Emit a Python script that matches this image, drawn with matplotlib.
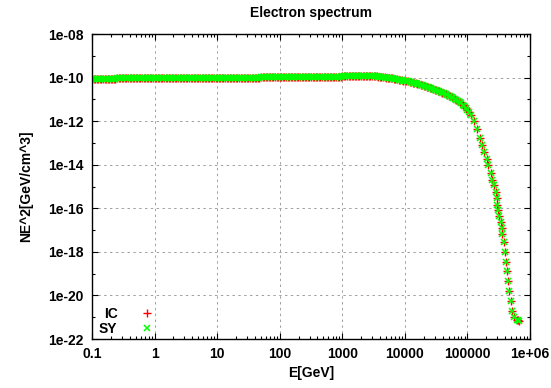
import matplotlib
matplotlib.use("Agg")
import matplotlib.pyplot as plt
import numpy as np

# ---- data (log10 values) ----
log_E = [
    -1.000, -0.975, -0.950, -0.925, -0.900, -0.875, -0.850, -0.825, -0.800, -0.775,
    -0.750, -0.725, -0.700, -0.675, -0.650, -0.625, -0.600, -0.575, -0.550, -0.525,
    -0.500, -0.475, -0.450, -0.425, -0.400, -0.375, -0.350, -0.325, -0.300, -0.275,
    -0.250, -0.225, -0.200, -0.175, -0.150, -0.125, -0.100, -0.075, -0.050, -0.025,
    0.000, 0.025, 0.050, 0.075, 0.100, 0.125, 0.150, 0.175, 0.200, 0.225,
    0.250, 0.275, 0.300, 0.325, 0.350, 0.375, 0.400, 0.425, 0.450, 0.475,
    0.500, 0.525, 0.550, 0.575, 0.600, 0.625, 0.650, 0.675, 0.700, 0.725,
    0.750, 0.775, 0.800, 0.825, 0.850, 0.875, 0.900, 0.925, 0.950, 0.975,
    1.000, 1.025, 1.050, 1.075, 1.100, 1.125, 1.150, 1.175, 1.200, 1.225,
    1.250, 1.275, 1.300, 1.325, 1.350, 1.375, 1.400, 1.425, 1.450, 1.475,
    1.500, 1.525, 1.550, 1.575, 1.600, 1.625, 1.650, 1.675, 1.700, 1.725,
    1.750, 1.775, 1.800, 1.825, 1.850, 1.875, 1.900, 1.925, 1.950, 1.975,
    2.000, 2.025, 2.050, 2.075, 2.100, 2.125, 2.150, 2.175, 2.200, 2.225,
    2.250, 2.275, 2.300, 2.325, 2.350, 2.375, 2.400, 2.425, 2.450, 2.475,
    2.500, 2.525, 2.550, 2.575, 2.600, 2.625, 2.650, 2.675, 2.700, 2.725,
    2.750, 2.775, 2.800, 2.825, 2.850, 2.875, 2.900, 2.925, 2.950, 2.975,
    3.000, 3.025, 3.050, 3.075, 3.100, 3.125, 3.150, 3.175, 3.200, 3.225,
    3.250, 3.275, 3.300, 3.325, 3.350, 3.375, 3.400, 3.425, 3.450, 3.475,
    3.500, 3.525, 3.550, 3.575, 3.600, 3.625, 3.650, 3.675, 3.700, 3.725,
    3.750, 3.775, 3.800, 3.825, 3.850, 3.875, 3.900, 3.925, 3.950, 3.975,
    4.000, 4.025, 4.050, 4.075, 4.100, 4.125, 4.150, 4.175, 4.200, 4.225,
    4.250, 4.275, 4.300, 4.325, 4.350, 4.375, 4.400, 4.425, 4.450, 4.475,
    4.500, 4.525, 4.550, 4.575, 4.600, 4.625, 4.650, 4.675, 4.700, 4.725,
    4.750, 4.775, 4.800, 4.825, 4.850, 4.875, 4.900, 4.925, 4.950, 4.975,
    5.000, 5.025, 5.050, 5.100, 5.150, 5.200, 5.240, 5.270, 5.310, 5.330,
    5.370, 5.400, 5.430, 5.460, 5.470, 5.480, 5.490, 5.510, 5.530, 5.550,
    5.560, 5.580, 5.600, 5.620, 5.640, 5.650, 5.670, 5.690, 5.720, 5.750,
    5.790, 5.810, 5.830,
]
log_NE2_SY = [
    -10.050, -10.050, -10.049, -10.049, -10.048, -10.048, -10.047, -10.047, -10.046, -10.046,
    -10.045, -10.045, -10.044, -10.044, -10.043, -10.043, -10.042, -10.042, -10.041, -10.041,
    -10.040, -10.040, -10.039, -10.039, -10.038, -10.038, -10.037, -10.037, -10.036, -10.036,
    -10.035, -10.035, -10.034, -10.034, -10.033, -10.033, -10.032, -10.032, -10.031, -10.031,
    -10.030, -10.030, -10.029, -10.029, -10.028, -10.028, -10.027, -10.027, -10.026, -10.026,
    -10.025, -10.025, -10.024, -10.024, -10.023, -10.023, -10.022, -10.022, -10.021, -10.021,
    -10.020, -10.020, -10.019, -10.019, -10.018, -10.018, -10.017, -10.017, -10.016, -10.016,
    -10.015, -10.015, -10.014, -10.014, -10.013, -10.013, -10.012, -10.012, -10.011, -10.011,
    -10.010, -10.010, -10.009, -10.009, -10.008, -10.008, -10.007, -10.007, -10.006, -10.006,
    -10.005, -10.005, -10.004, -10.004, -10.003, -10.003, -10.002, -10.002, -10.001, -10.001,
    -10.000, -10.000, -9.999, -9.999, -9.998, -9.998, -9.997, -9.997, -9.996, -9.996,
    -9.995, -9.995, -9.994, -9.994, -9.993, -9.993, -9.992, -9.992, -9.991, -9.991,
    -9.990, -9.989, -9.988, -9.987, -9.986, -9.985, -9.984, -9.983, -9.982, -9.981,
    -9.980, -9.979, -9.978, -9.977, -9.976, -9.975, -9.974, -9.973, -9.972, -9.971,
    -9.970, -9.969, -9.968, -9.967, -9.966, -9.965, -9.964, -9.963, -9.962, -9.961,
    -9.960, -9.959, -9.958, -9.957, -9.956, -9.955, -9.954, -9.953, -9.952, -9.951,
    -9.950, -9.949, -9.948, -9.947, -9.946, -9.945, -9.944, -9.943, -9.942, -9.941,
    -9.940, -9.939, -9.938, -9.938, -9.938, -9.938, -9.938, -9.938, -9.938, -9.938,
    -9.940, -9.945, -9.950, -9.955, -9.960, -9.970, -9.980, -9.990, -10.000, -10.010,
    -10.020, -10.030, -10.040, -10.050, -10.060, -10.075, -10.090, -10.105, -10.120, -10.135,
    -10.150, -10.165, -10.180, -10.200, -10.220, -10.235, -10.250, -10.270, -10.290, -10.310,
    -10.330, -10.355, -10.380, -10.400, -10.420, -10.445, -10.470, -10.495, -10.520, -10.550,
    -10.580, -10.605, -10.630, -10.660, -10.690, -10.725, -10.760, -10.795, -10.830, -10.865,
    -10.900, -10.940, -10.980, -11.030, -11.080, -11.130, -11.180, -11.250, -11.320, -11.400,
    -11.480, -11.590, -11.700, -12.000, -12.380, -12.780, -13.100, -13.410, -13.720, -14.020,
    -14.380, -14.680, -14.940, -15.250, -15.550, -15.860, -16.090, -16.350, -16.620, -16.900,
    -17.200, -17.570, -18.000, -18.460, -18.880, -19.340, -19.790, -20.250, -20.700, -21.000,
    -21.130, -21.150, -21.160,
]
log_NE2_IC = list(log_NE2_SY)  # IC and SY electron spectra coincide

x_ticks = [0.1, 1, 10, 100, 1000, 10000, 100000, 1e6]
x_ticklabels = ["0.1", "1", "10", "100", "1000", "10000", "100000", "1e+06"]
y_ticks = [1e-22, 1e-20, 1e-18, 1e-16, 1e-14, 1e-12, 1e-10, 1e-8]
y_ticklabels = ["1e-22", "1e-20", "1e-18", "1e-16", "1e-14", "1e-12", "1e-10", "1e-08"]
y_minor = [1e-21, 1e-19, 1e-17, 1e-15, 1e-13, 1e-11, 1e-9]

E = 10.0 ** np.array(log_E)
NE2_IC = 10.0 ** np.array(log_NE2_IC)
NE2_SY = 10.0 ** np.array(log_NE2_SY)

plt.rcParams['font.family'] = ['Liberation Sans', 'DejaVu Sans']
plt.rcParams['font.weight'] = 'bold'
fs = 10

fig = plt.figure(figsize=(5.51, 3.88), dpi=100)
ax = fig.add_axes([92/551, 1 - 339/388, (530-92)/551, (339-34)/388])

l1, = ax.plot(E, NE2_IC, linestyle='none', marker='+', color='#ff0000',
              markersize=5.2, markeredgewidth=1.0, label='IC')
l2, = ax.plot(E, NE2_SY, linestyle='none', marker='x', color='#00ff00',
              markersize=4.6, markeredgewidth=1.1, label='SY')
l1.set_snap(False)
l2.set_snap(False)

ax.set_xscale('log')
ax.set_yscale('log')
ax.set_xlim(0.1, 1e6)
ax.set_ylim(1e-22, 1e-8)

ax.set_xticks(x_ticks)
ax.set_xticklabels(x_ticklabels)
ax.set_yticks(y_ticks)
ax.set_yticklabels(y_ticklabels)
ax.xaxis.set_minor_locator(matplotlib.ticker.LogLocator(base=10, subs=np.arange(2, 10), numticks=20))
ax.xaxis.set_minor_formatter(matplotlib.ticker.NullFormatter())
ax.set_yticks(y_minor, minor=True)
ax.yaxis.set_minor_formatter(matplotlib.ticker.NullFormatter())

ax.tick_params(which='both', direction='in', top=True, right=True, labelsize=fs, width=0.8)
ax.tick_params(which='major', length=4.5)
ax.tick_params(which='minor', length=2.5)
ax.tick_params(axis='x', which='major', pad=6)
ax.tick_params(axis='y', which='major', pad=6)
for lab in ax.get_xticklabels() + ax.get_yticklabels():
    lab.set_fontweight('bold')

ax.grid(True, which='major', color='#a0a0a0', linestyle=(0, (2.5, 3.5)), linewidth=0.7)
for sp in ax.spines.values():
    sp.set_linewidth(1.0)
    sp.set_color('black')

ax.set_title('Electron spectrum', fontsize=fs, fontweight='bold', pad=12)
ax.set_xlabel('E[GeV]', fontsize=fs, fontweight='bold', labelpad=3)
ax.set_ylabel('NE^2[GeV/cm^3]', fontsize=fs, fontweight='bold', labelpad=11)

leg = ax.legend(loc='lower left', bbox_to_anchor=(-0.016, -0.035), frameon=False,
                markerfirst=False, fontsize=fs, handlelength=1.0,
                handletextpad=1.6, labelspacing=0.05, borderpad=0.5)
for t in leg.get_texts():
    t.set_fontweight('bold')

fig.savefig('out.png', dpi=100)
